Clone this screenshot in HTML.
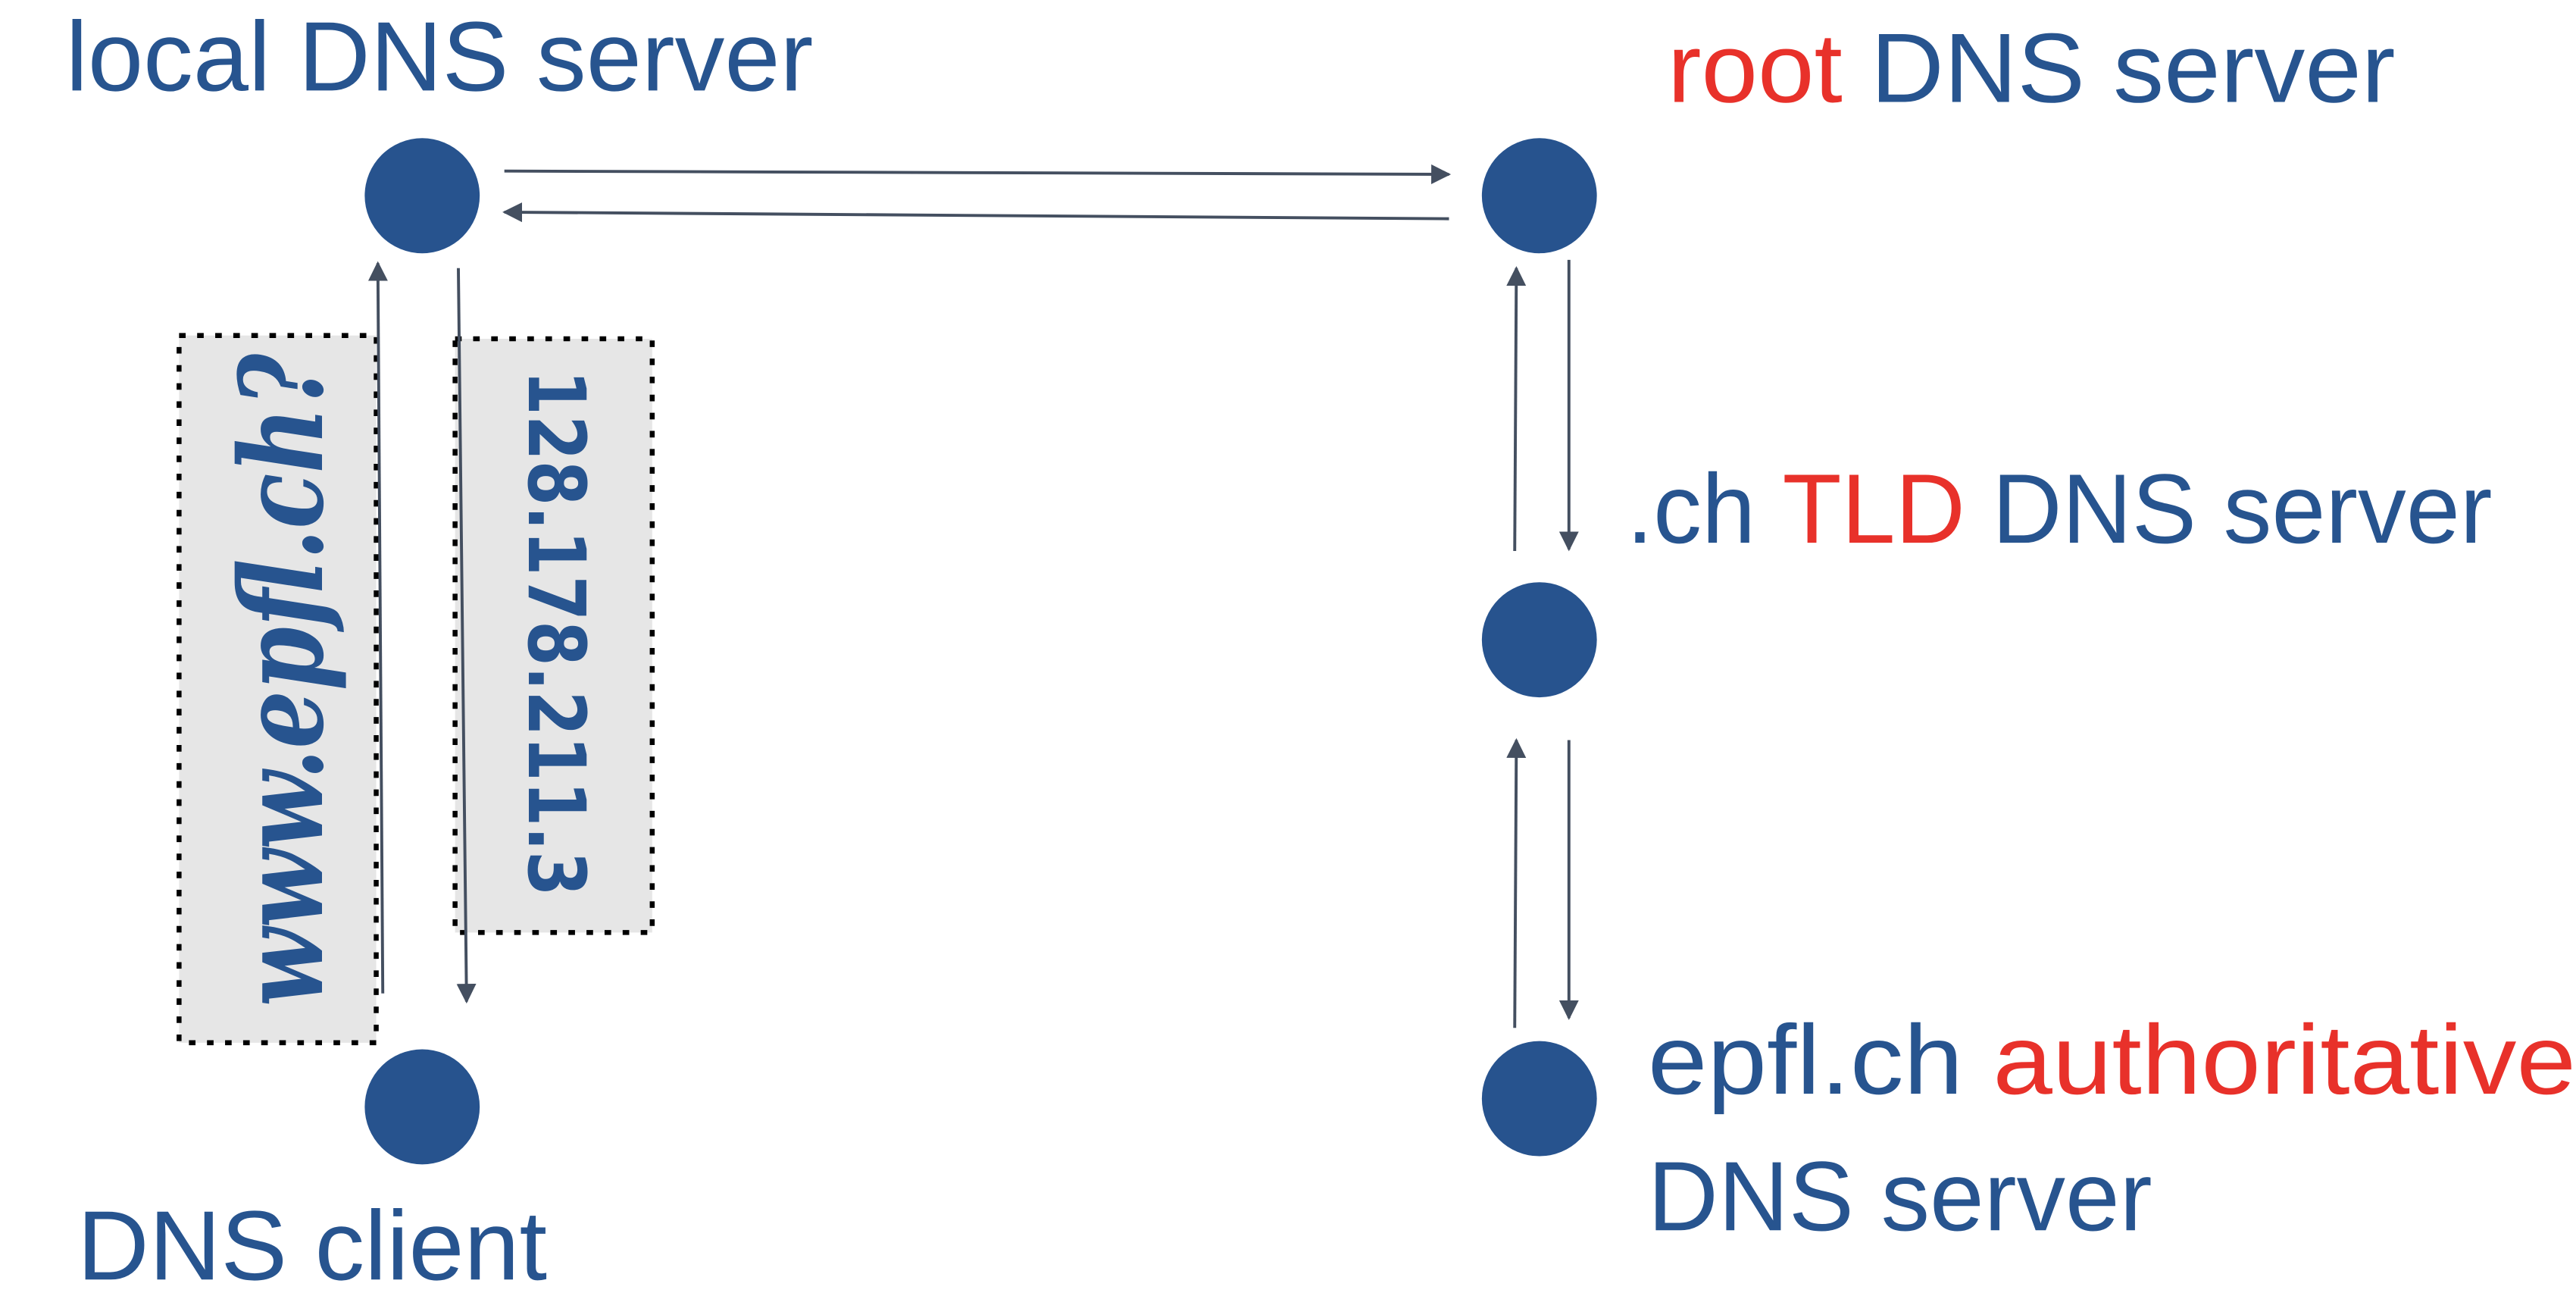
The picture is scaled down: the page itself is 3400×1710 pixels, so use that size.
<!DOCTYPE html>
<html><head><meta charset="utf-8"><style>html,body{margin:0;padding:0;background:#fff}svg{display:block}</style></head>
<body>
<svg width="3400" height="1710" viewBox="0 0 1568 788" preserveAspectRatio="none" xmlns="http://www.w3.org/2000/svg">
<defs>
<marker id="ah" viewBox="0 0 10 10" refX="9" refY="5" markerWidth="12" markerHeight="12" markerUnits="userSpaceOnUse" orient="auto">
<path d="M0,0 L10,5 L0,10 z" fill="#444f60"/>
</marker>
</defs>
<g font-family="Liberation Sans, sans-serif" font-size="60" fill="#27548f">
<text x="40" y="55" textLength="455" lengthAdjust="spacingAndGlyphs">local DNS server</text>
<text x="1015" y="62" textLength="443" lengthAdjust="spacingAndGlyphs"><tspan fill="#e8312a">root</tspan> DNS server</text>
<text x="990" y="330" textLength="527" lengthAdjust="spacingAndGlyphs">.ch <tspan fill="#e8312a">TLD</tspan> DNS server</text>
<text x="1003" y="665" textLength="565" lengthAdjust="spacingAndGlyphs">epfl.ch <tspan fill="#e8312a">authoritative</tspan></text>
<text x="1003" y="748" textLength="307" lengthAdjust="spacingAndGlyphs">DNS server</text>
<text x="47" y="778" textLength="286" lengthAdjust="spacingAndGlyphs">DNS client</text>
</g>
<g fill="#27538e">
<circle cx="257" cy="119" r="35"/>
<circle cx="937" cy="119" r="35"/>
<circle cx="937" cy="389" r="35"/>
<circle cx="937" cy="668" r="35"/>
<circle cx="257" cy="673" r="35"/>
</g>
<rect x="109" y="204" width="120" height="430" fill="#e6e6e6" stroke="#000" stroke-width="3" stroke-dasharray="4,7"/>
<rect x="277" y="206" width="120" height="361" fill="#e6e6e6" stroke="#000" stroke-width="3" stroke-dasharray="4,7"/>
<text transform="translate(196,612) rotate(-90)" font-family="DejaVu Serif, serif" font-style="italic" font-weight="bold" font-size="70" fill="#27548f" textLength="397" lengthAdjust="spacingAndGlyphs">www.epfl.ch?</text>
<text transform="translate(322,225) rotate(90)" font-family="DejaVu Sans, sans-serif" font-weight="bold" font-size="48" fill="#27548f" textLength="320" lengthAdjust="spacingAndGlyphs">128.178.211.3</text>
<g stroke="#444f60" stroke-width="1.8" fill="none" marker-end="url(#ah)">
<line x1="307" y1="104" x2="882" y2="106"/>
<line x1="882" y1="133" x2="307" y2="129"/>
<line x1="233" y1="604" x2="230" y2="160"/>
<line x1="279" y1="163" x2="284" y2="609"/>
<line x1="922" y1="335" x2="923" y2="163"/>
<line x1="955" y1="158" x2="955" y2="334"/>
<line x1="922" y1="625" x2="923" y2="450"/>
<line x1="955" y1="450" x2="955" y2="619"/>
</g>
</svg>
</body></html>
